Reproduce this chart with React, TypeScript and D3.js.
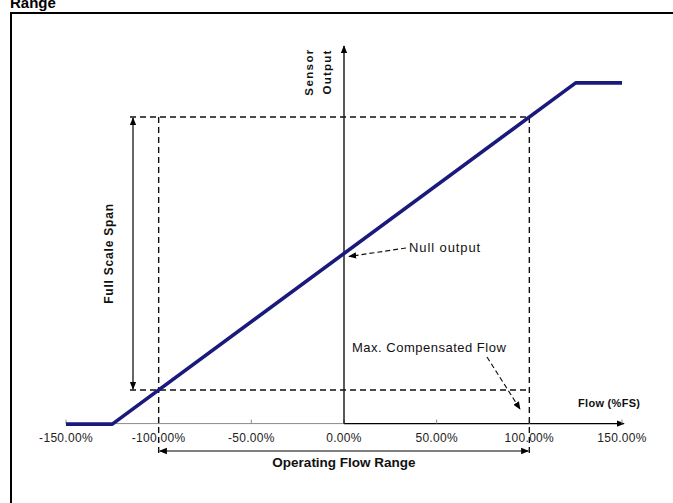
import React from "react";
import * as d3 from "d3";

// Flow in %FS and corresponding sensor output in % of full-scale span
const flowPoints = [-150, -125, 125, 150];
const outputPoints = [-12.5, -12.5, 112.5, 112.5];
const tickValues = [-150, -100, -50, 0, 50, 100, 150];
const tickLabels = ["-150.00%", "-100.00%", "-50.00%", "0.00%", "50.00%", "100.00%", "150.00%"];
const operatingRange = [-100, 100];
const spanLevels = [0, 100];
const nullLevel = 50;

const W = 673;
const H = 503;
const FONT = "'Liberation Sans', Arial, Helvetica, sans-serif";

export default function App() {
  const x = d3.scaleLinear().domain([-150, 150]).range([66, 622]);
  const y = d3.scaleLinear().domain([0, 100]).range([390, 117]);
  const axisY = y(-12.3);
  const x0 = x(0);

  const data = flowPoints.map((f, i) => ({ f, o: outputPoints[i] }));
  const line = d3
    .line<{ f: number; o: number }>()
    .x((d) => x(d.f))
    .y((d) => y(d.o));

  const xL = x(operatingRange[0]);
  const xR = x(operatingRange[1]);
  const yTop = y(spanLevels[1]);
  const yBot = y(spanLevels[0]);
  const yNull = y(nullLevel);
  const dash = "6,4";

  return (
    <svg
      width={W}
      height={H}
      style={{ position: "absolute", left: 0, top: 0, background: "#fff" }}
      fontFamily={FONT}
    >
      <defs>
        <marker id="ah" viewBox="0 0 10 10" refX="9" refY="5" markerWidth="8" markerHeight="8" markerUnits="userSpaceOnUse" orient="auto-start-reverse">
          <path d="M0,1 L10,5 L0,9 z" fill="#000" />
        </marker>
      </defs>
      <rect x={0} y={0} width={W} height={H} fill="#fff" />
      {/* title fragment */}
      <text x={10} y={8} fontSize={15} fontWeight="bold" fill="#000">Range</text>
      {/* frame */}
      <rect x={11} y={13} width={W + 10} height={H + 10} fill="none" stroke="#000" strokeWidth={2} />

      {/* x axis: gray left half, black arrow right half */}
      <line x1={x(-150)} x2={x0} y1={axisY} y2={axisY} stroke="#8a8a8a" strokeWidth={1} />
      <line x1={x0} x2={x(150) + 2} y1={axisY} y2={axisY} stroke="#000" strokeWidth={1.3} markerEnd="url(#ah)" />
      {tickValues.map((t) => (
        <line key={"t" + t} x1={x(t)} x2={x(t)} y1={axisY} y2={axisY - 4} stroke="#8a8a8a" strokeWidth={1} />
      ))}
      {tickValues.map((t, i) => (
        <text key={"l" + t} x={x(t)} y={axisY + 18} fontSize={12} textAnchor="middle" fill="#222" letterSpacing={0.3}>
          {tickLabels[i]}
        </text>
      ))}

      {/* y axis */}
      <line x1={x0} x2={x0} y1={axisY} y2={46} stroke="#000" strokeWidth={1.3} markerEnd="url(#ah)" />
      <text transform={`translate(313,72) rotate(-90)`} fontSize={11.5} fontWeight="bold" textAnchor="middle" letterSpacing={1.4} fill="#111">Sensor</text>
      <text transform={`translate(331,72) rotate(-90)`} fontSize={11.5} fontWeight="bold" textAnchor="middle" letterSpacing={1.2} fill="#111">Output</text>

      {/* dashed guides */}
      {spanLevels.map((lv) => (
        <line key={"h" + lv} x1={130} x2={xR} y1={y(lv)} y2={y(lv)} stroke="#111" strokeWidth={1.4} strokeDasharray={dash} />
      ))}
      {operatingRange.map((f) => (
        <line key={"v" + f} x1={x(f)} x2={x(f)} y1={yTop} y2={456} stroke="#111" strokeWidth={1.4} strokeDasharray={dash} />
      ))}

      {/* full scale span */}
      <line x1={133} x2={133} y1={yTop + 1} y2={yBot - 1} stroke="#000" strokeWidth={1.2} markerStart="url(#ah)" markerEnd="url(#ah)" />
      <text transform={`translate(113,${(yTop + yBot) / 2}) rotate(-90)`} fontSize={12} fontWeight="bold" textAnchor="middle" letterSpacing={0.8} fill="#111">Full Scale Span</text>

      {/* operating flow range */}
      <line x1={xL + 1} x2={xR - 1} y1={451} y2={451} stroke="#000" strokeWidth={1.2} markerStart="url(#ah)" markerEnd="url(#ah)" />
      <text x={x0} y={467} fontSize={13.5} fontWeight="bold" textAnchor="middle" fill="#111">Operating Flow Range</text>

      {/* sensor curve */}
      <path d={line(data) || ""} fill="none" stroke="#1a1a7c" strokeWidth={3.6} strokeLinejoin="round" />

      {/* null output annotation */}
      <line x1={406} x2={x0 + 5} y1={248} y2={yNull + 3} stroke="#111" strokeWidth={1.2} strokeDasharray="5,3" markerEnd="url(#ah)" />
      <text x={409} y={252} fontSize={13} letterSpacing={0.9} fill="#111">Null output</text>

      {/* max compensated flow */}
      <text x={352} y={352} fontSize={13} letterSpacing={0.5} fill="#111">Max. Compensated Flow</text>
      <line x1={487} x2={520} y1={357} y2={409} stroke="#111" strokeWidth={1.2} strokeDasharray="5,3" markerEnd="url(#ah)" />

      <text x={578} y={407} fontSize={11} fontWeight="bold" letterSpacing={0.3} fill="#111">Flow (%FS)</text>
    </svg>
  );
}
